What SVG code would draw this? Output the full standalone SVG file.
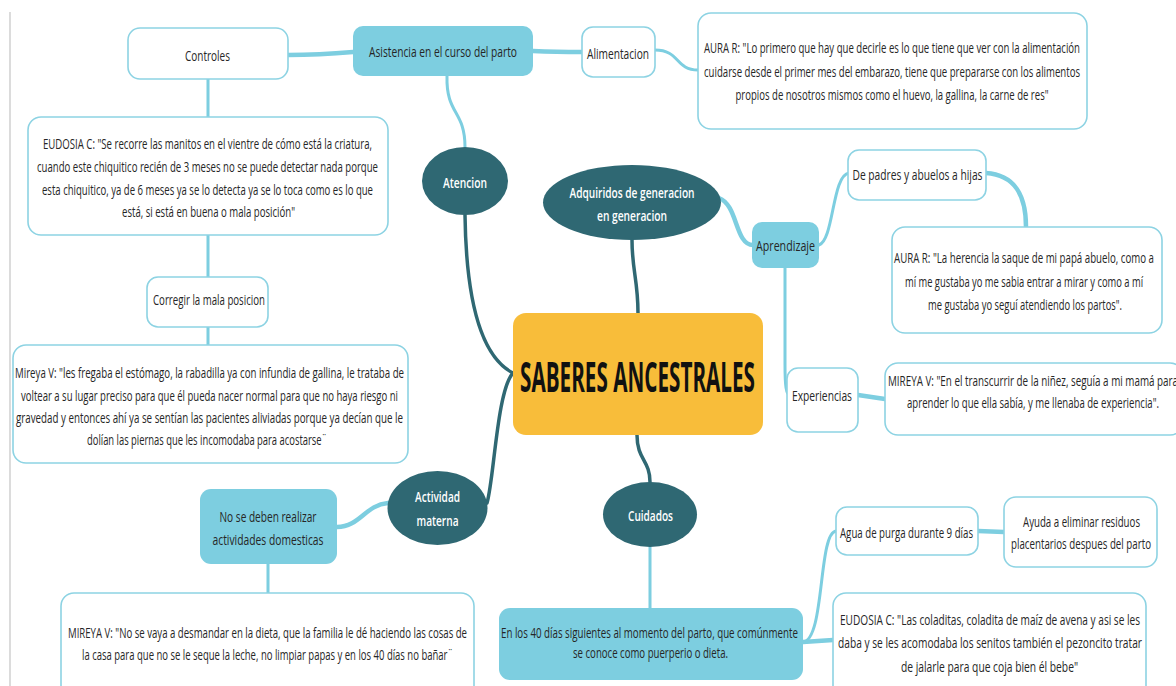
<svg xmlns="http://www.w3.org/2000/svg" width="1176" height="686" viewBox="0 0 1176 686">
<style>
.t{font-family:"Open Sans","Liberation Sans",sans-serif;font-size:15px;font-weight:500;fill:#262626;text-anchor:middle}
.w{font-family:"Open Sans","Liberation Sans",sans-serif;font-size:15px;font-weight:600;fill:#fff;text-anchor:middle}
.box{fill:#fff;stroke:#8dd3e3;stroke-width:1.6}
.lb{fill:#7dcee0}
.dk{fill:#2f6873}
.c{fill:none;stroke:#7dcee0;stroke-width:3;stroke-linecap:round}
.ct{stroke-width:4.5}
.cd{fill:none;stroke:#2f6873;stroke-width:3.5;stroke-linecap:round}
</style>
<rect width="1176" height="686" fill="#fff"/>
<line x1="10" y1="12" x2="10" y2="686" stroke="#c4c4c4" stroke-width="1.2"/>
<g id="connectors">
<path class="cd" d="M465,215 C466,290 478,355 513,373"/>
<path class="cd" d="M513,373 C497,390 494,480 487,503"/>
<path class="cd" d="M638,313 C638,280 632,270 632,240"/>
<path class="cd" d="M637,435 C637,460 650,460 650,482"/>
<path class="c" d="M447,76 C446,115 465,110 465,147"/>
<path class="c ct" d="M353,52 C330,54 310,55 288,55"/>
<path class="c ct" d="M533,51 C555,52 565,52 582,52"/>
<path class="c" d="M655,50 C680,50 675,70 698,70"/>
<path class="c" d="M208,79 L208,117"/>
<path class="c" d="M208,235 L208,277"/>
<path class="c" d="M208,327 L208,345"/>
<path class="c ct" d="M719,198 C738,205 735,245 753,245"/>
<path class="c" d="M819,245 C834,240 832,175 849,173"/>
<path class="c ct" d="M986,173 C1015,175 1026,195 1026,227"/>
<path class="c" d="M785,268 L785,365 C785,385 786,395 790,395"/>
<path class="c ct" d="M858,395 L885,399"/>
<path class="c ct" d="M388,503 C365,505 360,527 337,527"/>
<path class="c" d="M268,564 L268,593"/>
<path class="c" d="M650,547 L650,608"/>
<path class="c" d="M803,642 C825,640 818,533 836,531"/>
<path class="c ct" d="M803,642 L833,640"/>
<path class="c ct" d="M978,531 L1004,532"/>
</g>
<g id="central">
<rect x="513" y="313" width="250" height="122" rx="13" fill="#f8bd3a"/>
<text x="637.5" y="392" font-family="'Open Sans','Liberation Sans',sans-serif" font-size="42" font-weight="bold" fill="#111" text-anchor="middle" textLength="235" lengthAdjust="spacingAndGlyphs">SABERES ANCESTRALES</text>
</g>
<g id="atencion">
<ellipse class="dk" cx="465" cy="181" rx="43" ry="34"/>
<text class="w" x="465" y="188" textLength="44" lengthAdjust="spacingAndGlyphs">Atencion</text>
</g>
<g id="asistencia">
<rect class="lb" x="353" y="26" width="180" height="50" rx="10"/>
<text class="t" x="443" y="57" textLength="148" lengthAdjust="spacingAndGlyphs">Asistencia en el curso del parto</text>
</g>
<g id="controles">
<rect class="box" x="128" y="28" width="160" height="51" rx="12"/>
<text class="t" x="207.5" y="60.5" textLength="45" lengthAdjust="spacingAndGlyphs">Controles</text>
</g>
<g id="alimentacion">
<rect class="box" x="582" y="27" width="73" height="50" rx="11"/>
<text class="t" x="618" y="59" textLength="62" lengthAdjust="spacingAndGlyphs">Alimentacion</text>
</g>
<g id="aura-alimentacion">
<rect class="box" x="698" y="13" width="389" height="116" rx="13"/>
<text class="t" x="892" y="53" textLength="376" lengthAdjust="spacingAndGlyphs">AURA R: "Lo primero que hay que decirle es lo que tiene que ver con la alimentación</text>
<text class="t" x="892" y="77" textLength="376" lengthAdjust="spacingAndGlyphs">cuidarse desde el primer mes del embarazo, tiene que prepararse con los alimentos</text>
<text class="t" x="892" y="100" textLength="313" lengthAdjust="spacingAndGlyphs">propios de nosotros mismos como el huevo, la gallina, la carne de res"</text>
</g>
<g id="eudosia-controles">
<rect class="box" x="28" y="117" width="360" height="118" rx="13"/>
<text class="t" x="207.5" y="149" textLength="329" lengthAdjust="spacingAndGlyphs">EUDOSIA C: "Se recorre las manitos en el vientre de cómo está la criatura,</text>
<text class="t" x="207.5" y="172" textLength="341" lengthAdjust="spacingAndGlyphs">cuando este chiquitico recién de 3 meses no se puede detectar nada porque</text>
<text class="t" x="207.5" y="195" textLength="331" lengthAdjust="spacingAndGlyphs">esta chiquitico, ya de 6 meses ya se lo detecta ya se lo toca como es lo que</text>
<text class="t" x="208.5" y="217" textLength="173" lengthAdjust="spacingAndGlyphs">está, si está en buena o mala posición"</text>
</g>
<g id="corregir">
<rect class="box" x="147" y="277" width="121" height="50" rx="11"/>
<text class="t" x="209" y="305" textLength="112" lengthAdjust="spacingAndGlyphs">Corregir la mala posicion</text>
</g>
<g id="mireya-corregir">
<rect class="box" x="13" y="345" width="395" height="118" rx="13"/>
<text class="t" x="209.5" y="378" textLength="389" lengthAdjust="spacingAndGlyphs">Mireya V: "les fregaba el estómago, la rabadilla ya con infundia de gallina, le trataba de</text>
<text class="t" x="209.5" y="401" textLength="377" lengthAdjust="spacingAndGlyphs">voltear a su lugar preciso para que él pueda nacer normal para que no haya riesgo ni</text>
<text class="t" x="209.5" y="423" textLength="387" lengthAdjust="spacingAndGlyphs">gravedad y entonces ahí ya se sentían las pacientes aliviadas porque ya decían que le</text>
<text class="t" x="207" y="445" textLength="240" lengthAdjust="spacingAndGlyphs">dolían las piernas que les incomodaba para acostarse¨</text>
</g>
<g id="adquiridos">
<ellipse class="dk" cx="632" cy="202.5" rx="89" ry="37.5"/>
<text class="w" x="632" y="198" textLength="125" lengthAdjust="spacingAndGlyphs">Adquiridos de generacion</text>
<text class="w" x="632" y="221" textLength="70" lengthAdjust="spacingAndGlyphs">en generacion</text>
</g>
<g id="aprendizaje">
<rect class="lb" x="752" y="222" width="67" height="46" rx="10"/>
<text class="t" x="785.5" y="251" textLength="59" lengthAdjust="spacingAndGlyphs">Aprendizaje</text>
</g>
<g id="padres">
<rect class="box" x="848" y="150" width="138" height="50" rx="11"/>
<text class="t" x="917.5" y="180" textLength="130" lengthAdjust="spacingAndGlyphs">De padres y abuelos a hijas</text>
</g>
<g id="aura-herencia">
<rect class="box" x="892" y="227" width="270" height="106" rx="13"/>
<text class="t" x="1024" y="263" textLength="260" lengthAdjust="spacingAndGlyphs">AURA R: "La herencia la saque de mi papá abuelo, como a</text>
<text class="t" x="1024" y="287" textLength="238" lengthAdjust="spacingAndGlyphs">mí me gustaba yo me sabia entrar a mirar y como a mí</text>
<text class="t" x="1025" y="310" textLength="194" lengthAdjust="spacingAndGlyphs">me gustaba yo seguí atendiendo los partos".</text>
</g>
<g id="experiencias">
<rect class="box" x="787" y="368" width="71" height="64" rx="11"/>
<text class="t" x="822" y="401" textLength="60" lengthAdjust="spacingAndGlyphs">Experiencias</text>
</g>
<g id="mireya-experiencias">
<rect class="box" x="885" y="363" width="298" height="72" rx="13"/>
<text class="t" x="1033" y="386" textLength="290" lengthAdjust="spacingAndGlyphs">MIREYA V: "En el transcurrir de la niñez, seguía a mi mamá para</text>
<text class="t" x="1033" y="408" textLength="252" lengthAdjust="spacingAndGlyphs">aprender lo que ella sabía, y me llenaba de experiencia".</text>
</g>
<g id="actividad">
<ellipse class="dk" cx="437.5" cy="508" rx="50" ry="37"/>
<text class="w" x="437.5" y="502" textLength="45" lengthAdjust="spacingAndGlyphs">Actividad</text>
<text class="w" x="437.5" y="526" textLength="42" lengthAdjust="spacingAndGlyphs">materna</text>
</g>
<g id="no-se-deben">
<rect class="lb" x="200" y="489" width="137" height="75" rx="11"/>
<text class="t" x="268" y="522" textLength="97" lengthAdjust="spacingAndGlyphs">No se deben realizar</text>
<text class="t" x="268" y="545" textLength="111" lengthAdjust="spacingAndGlyphs">actividades domesticas</text>
</g>
<g id="mireya-dieta">
<rect class="box" x="61" y="593" width="413" height="110" rx="13"/>
<text class="t" x="267.5" y="638" textLength="399" lengthAdjust="spacingAndGlyphs">MIREYA V: "No se vaya a desmandar en la dieta, que la familia le dé haciendo las cosas de</text>
<text class="t" x="267.5" y="660" textLength="371" lengthAdjust="spacingAndGlyphs">la casa para que no se le seque la leche, no limpiar papas y en los 40 días no bañar¨</text>
</g>
<g id="cuidados">
<ellipse class="dk" cx="650" cy="514.5" rx="47" ry="32.5"/>
<text class="w" x="650.5" y="521" textLength="45" lengthAdjust="spacingAndGlyphs">Cuidados</text>
</g>
<g id="cuarenta-dias">
<rect class="lb" x="499" y="608" width="304" height="72" rx="11"/>
<text class="t" x="649.5" y="638" textLength="297" lengthAdjust="spacingAndGlyphs">En los 40 días siguientes al momento del parto, que comúnmente</text>
<text class="t" x="650.5" y="658" textLength="155" lengthAdjust="spacingAndGlyphs">se conoce como puerperio o dieta.</text>
</g>
<g id="agua">
<rect class="box" x="836" y="507" width="142" height="48" rx="11"/>
<text class="t" x="906.5" y="538" textLength="133" lengthAdjust="spacingAndGlyphs">Agua de purga durante 9 días</text>
</g>
<g id="ayuda">
<rect class="box" x="1004" y="497" width="153" height="70" rx="12"/>
<text class="t" x="1081.5" y="527" textLength="117" lengthAdjust="spacingAndGlyphs">Ayuda a eliminar residuos</text>
<text class="t" x="1081" y="549" textLength="140" lengthAdjust="spacingAndGlyphs">placentarios despues del parto</text>
</g>
<g id="eudosia-coladitas">
<rect class="box" x="833" y="593" width="313" height="110" rx="13"/>
<text class="t" x="990" y="625" textLength="300" lengthAdjust="spacingAndGlyphs">EUDOSIA C: "Las coladitas, coladita de maíz de avena y asi se les</text>
<text class="t" x="990" y="648" textLength="304" lengthAdjust="spacingAndGlyphs">daba y se les acomodaba los senitos también el pezoncito tratar</text>
<text class="t" x="989.5" y="672" textLength="177" lengthAdjust="spacingAndGlyphs">de jalarle para que coja bien él bebe"</text>
</g>
</svg>
